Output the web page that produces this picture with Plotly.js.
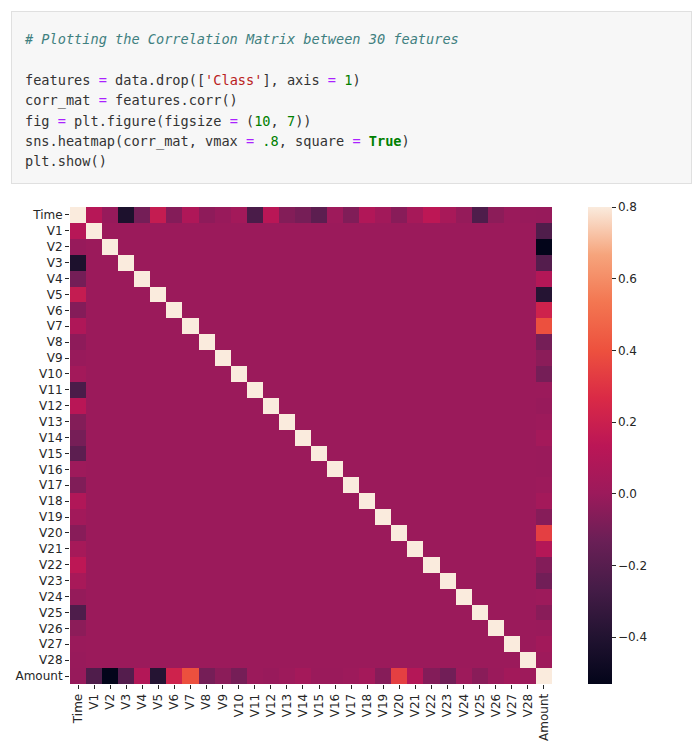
<!DOCTYPE html>
<html>
<head>
<meta charset="utf-8">
<script src="https://cdn.plot.ly/plotly-3.0.1.min.js"></script>
<style>
body { margin: 0; background: #fff; width: 695px; height: 753px; position: relative; overflow: hidden; }
#code { position: absolute; left: 11px; top: 11px; width: 681px; height: 173px; background: #f7f7f7; border: 1px solid #e0e0e0; box-sizing: border-box; }
#code pre { margin: 0; position: absolute; left: 13px; top: 17px; font-family: "DejaVu Sans Mono", monospace; font-size: 13.6px; line-height: 20.4px; color: #333; }
.c { color: #408080; font-style: italic; }
.o { color: #AA22FF; }
.s { color: #BA2121; }
.n { color: #008000; }
.k { color: #008000; font-weight: bold; }
#chart { position: absolute; left: 0; top: 195px; width: 695px; height: 558px; }
</style>
</head>
<body>
<div id="code"><pre><span class="c"># Plotting the Correlation Matrix between 30 features</span>

features <span class="o">=</span> data.drop([<span class="s">'Class'</span>], axis <span class="o">=</span> <span class="n">1</span>)
corr_mat <span class="o">=</span> features.corr()
fig <span class="o">=</span> plt.figure(figsize <span class="o">=</span> (<span class="n">10</span>, <span class="n">7</span>))
sns.heatmap(corr_mat, vmax <span class="o">=</span> <span class="n">.8</span>, square <span class="o">=</span> <span class="k">True</span>)
plt.show()</pre></div>
<div id="chart"></div>
<script>
// feature names
var labels = ['Time','V1','V2','V3','V4','V5','V6','V7','V8','V9','V10','V11','V12','V13','V14',
  'V15','V16','V17','V18','V19','V20','V21','V22','V23','V24','V25','V26','V27','V28','Amount'];
// correlation of Time with V1..V28, Amount
var timeCorr = [0.117, -0.011, -0.420, -0.105, 0.173, -0.063, 0.085, -0.037, -0.009, 0.031,
  -0.248, 0.124, -0.066, -0.099, -0.183, 0.012, -0.073, 0.090, 0.029, -0.051,
  0.045, 0.144, 0.051, -0.016, -0.233, -0.041, -0.005, -0.009, -0.011];
// correlation of Amount with V1..V28
var amountCorr = [-0.228, -0.531, -0.211, 0.099, -0.386, 0.216, 0.397, -0.103, -0.044, -0.102,
  0.000, -0.010, 0.005, 0.034, -0.003, -0.004, 0.007, 0.036, -0.056, 0.339,
  0.106, -0.065, -0.113, 0.005, -0.048, -0.003, 0.029, 0.010];

var n = labels.length;
var z = [];
for (var i = 0; i < n; i++) {
  var row = [];
  for (var j = 0; j < n; j++) row.push(i === j ? 1 : 0);
  z.push(row);
}
for (var k = 1; k < n; k++) { z[0][k] = timeCorr[k - 1]; z[k][0] = timeCorr[k - 1]; }
for (var m = 1; m < n - 1; m++) { z[n - 1][m] = amountCorr[m - 1]; z[m][n - 1] = amountCorr[m - 1]; }

var rocket = [
  [0, '#03051a'], [0.1, '#221331'], [0.2, '#451c47'], [0.3, '#6a1f56'],
  [0.4, '#9c1a5b'], [0.5, '#bb1656'], [0.6, '#da2a46'], [0.7, '#ed513e'],
  [0.8, '#f37651'], [0.9, '#f6a47c'], [1, '#faebdd']
];

var data = [{
  type: 'heatmap',
  x: labels, y: labels, z: z,
  zmin: -0.531, zmax: 0.8,
  colorscale: rocket,
  colorbar: {
    x: 1.075, xanchor: 'left', xpad: 0, ypad: 0, y: 0.5, len: 1, lenmode: 'fraction',
    thickness: 24, outlinewidth: 0,
    tickvals: [-0.4, -0.2, 0, 0.2, 0.4, 0.6, 0.8],
    ticktext: ['\u22120.4', '\u22120.2', '0.0', '0.2', '0.4', '0.6', '0.8'],
    ticks: 'outside', ticklen: 4, tickcolor: '#262626',
    tickfont: { size: 12, color: '#262626' }
  }
}];

var layout = {
  width: 695, height: 558,
  margin: { l: 70, r: 143, t: 12, b: 69 },
  font: { family: 'DejaVu Sans', size: 12, color: '#262626' },
  paper_bgcolor: '#fff', plot_bgcolor: '#fff',
  xaxis: { tickangle: -90, ticks: 'outside', ticklen: 4, tickcolor: '#262626', showgrid: false, zeroline: false, tickfont: { size: 12 } },
  yaxis: { autorange: 'reversed', ticks: 'outside', ticklen: 4, tickcolor: '#262626', showgrid: false, zeroline: false, tickfont: { size: 12 } }
};

Plotly.newPlot('chart', data, layout, { staticPlot: true });
</script>
</body>
</html>
